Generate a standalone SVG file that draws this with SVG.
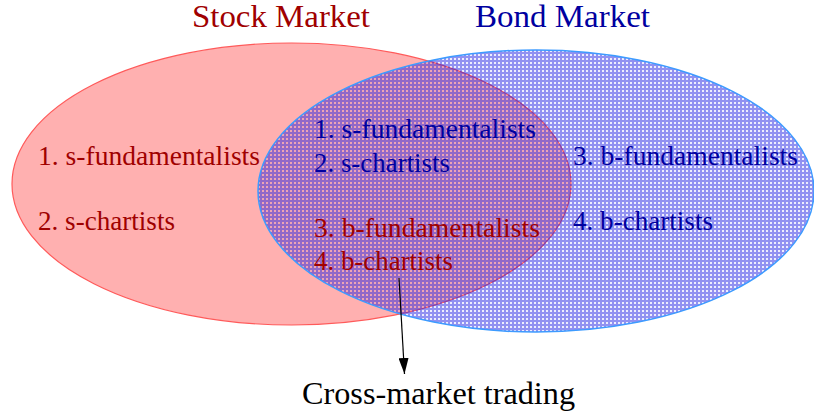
<svg xmlns="http://www.w3.org/2000/svg" width="814" height="416" viewBox="0 0 814 416">
  <defs>
    <pattern id="hatch" patternUnits="userSpaceOnUse" width="4" height="4">
      <rect x="0" y="0" width="4" height="2" fill="#1a1ae0" fill-opacity="0.48"/>
      <rect x="0" y="2" width="2" height="2" fill="#1a1ae0" fill-opacity="0.48"/>
      <rect x="2" y="2" width="2" height="2" fill="#1a1ae0" fill-opacity="0.08"/>
    </pattern>
    <marker id="arrow" viewBox="0 0 16 10" refX="16" refY="5" markerWidth="16" markerHeight="10" markerUnits="userSpaceOnUse" orient="auto">
      <path d="M0,0 L16,5 L0,10 Z" fill="#000"/>
    </marker>
    <style>
      .lbl { font-family: "Liberation Serif", "DejaVu Serif", serif; font-size: 27px; }
      .red { fill: #a00000; }
      .blue { fill: #0000a0; }
      .title { font-family: "Liberation Serif", "DejaVu Serif", serif; font-size: 31px; }
    </style>
  </defs>
  <rect width="814" height="416" fill="#fff"/>
  <g id="stock-market">
    <ellipse cx="291.5" cy="184" rx="279.5" ry="141" fill="#ffb0b0" stroke="#ff5a5a" stroke-width="1.2"/>
  </g>
  <g id="bond-market">
    <ellipse cx="536" cy="191" rx="278" ry="141" fill="url(#hatch)" stroke="#3d9bff" stroke-width="1.5"/>
  </g>
  <g id="titles">
    <text class="title red" x="192" y="27" textLength="178" lengthAdjust="spacingAndGlyphs">Stock Market</text>
    <text class="title blue" x="475" y="27" textLength="175" lengthAdjust="spacingAndGlyphs">Bond Market</text>
  </g>
  <g id="stock-labels">
    <text class="lbl red" x="38" y="165" textLength="222" lengthAdjust="spacingAndGlyphs">1. s-fundamentalists</text>
    <text class="lbl red" x="38" y="230" textLength="137" lengthAdjust="spacingAndGlyphs">2. s-chartists</text>
  </g>
  <g id="overlap-labels">
    <text class="lbl blue" x="314" y="138" textLength="222" lengthAdjust="spacingAndGlyphs">1. s-fundamentalists</text>
    <text class="lbl blue" x="314" y="172" textLength="136" lengthAdjust="spacingAndGlyphs">2. s-chartists</text>
    <text class="lbl red" x="314" y="237" textLength="226" lengthAdjust="spacingAndGlyphs">3. b-fundamentalists</text>
    <text class="lbl red" x="314" y="270" textLength="139" lengthAdjust="spacingAndGlyphs">4. b-chartists</text>
  </g>
  <g id="bond-labels">
    <text class="lbl blue" x="573" y="165" textLength="225" lengthAdjust="spacingAndGlyphs">3. b-fundamentalists</text>
    <text class="lbl blue" x="573" y="230" textLength="140" lengthAdjust="spacingAndGlyphs">4. b-chartists</text>
  </g>
  <g id="connectors">
    <line x1="399" y1="278" x2="404.5" y2="374" stroke="#000" stroke-width="1.2" marker-end="url(#arrow)"/>
  </g>
  <g id="cross-market">
    <text class="title" x="302" y="404" fill="#000" textLength="273" lengthAdjust="spacingAndGlyphs">Cross-market trading</text>
  </g>
</svg>
